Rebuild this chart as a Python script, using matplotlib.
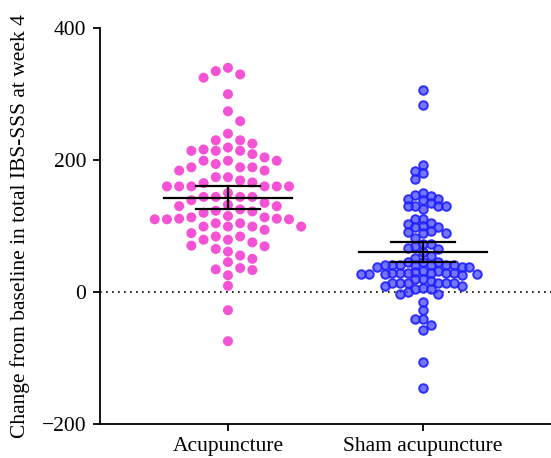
import numpy as np
import matplotlib
matplotlib.use("Agg")
from matplotlib import pyplot as plt


# DATA
groups = ["Acupuncture", "Sham acupuncture"]

acu_values = [340, 335, 330, 325, 300, 274, 259,
              240, 230, 230, 225, 219, 216, 214, 214, 214, 209,
              204, 199, 199, 199, 194, 189, 189, 189, 184, 184,
              174, 174, 169, 166, 165, 160, 160, 160, 160, 160, 160,
              150, 144, 144, 144, 144, 139, 135,
              132, 130, 130, 125, 123, 122, 120,
              115, 113, 113, 111, 111, 110, 110, 110,
              104, 104, 99, 99, 99, 99, 94,
              89, 84, 84, 79, 79, 75, 70, 69, 65, 61, 55, 50, 45,
              36, 34, 33, 25, 9, -28, -75]

sham_values = [307, 283, 192, 184, 180, 171,
               150, 147, 146, 141, 141, 139, 135, 130, 130, 130, 130, 126,
               111, 111, 105, 103, 100, 99, 98, 93, 90, 89, 89,
               82, 73, 72, 70, 67, 65, 60, 55, 52,
               45, 45, 45, 41, 41, 40, 40, 40, 40, 40, 37, 37, 37,
               32, 32, 30, 29, 29, 29, 29, 29, 29, 27, 27, 27, 27, 25,
               19, 19, 17, 14, 14, 14, 14, 14, 14,
               9, 9, 6, 4, 4, -1, -4, -4,
               -15, -28, -41, -41, -51, -58, -106, -146]

# mean and 95% CI drawn as whiskers
means = [143, 60]
ci_low = [126, 45]
ci_high = [160, 76]

yticks = [-200, 0, 200, 400]


# STYLE
pink = "#f553d6"
blue_face = (0.25, 0.25, 1.0, 0.72)
blue_edge = (0.12, 0.12, 1.0, 0.9)

plt.rcParams["font.family"] = ["Liberation Serif", "DejaVu Serif"]
plt.rcParams["axes.linewidth"] = 1.3


def swarm_offsets(ax, xc, vals, step_px, min_px):
    # place points on a column grid, smallest offset that doesnt collide
    pts = ax.transData.transform(np.column_stack([np.full(len(vals), xc), vals]))
    order = np.argsort(-np.asarray(vals), kind="stable")
    placed = []
    out = np.zeros(len(vals))
    cand = [0]
    for j in range(1, 40):
        cand += [j, -j]
    for n, i in enumerate(order):
        px, py = pts[i]
        # flip preferred side each time so the swarm stays balanced
        sgn = 1 if n % 2 == 0 else -1
        for k in cand:
            x = px + sgn * k * step_px
            ok = True
            for (qx, qy) in placed:
                if (qx - x) ** 2 + (qy - py) ** 2 < min_px ** 2:
                    ok = False
                    break
            if ok:
                break
        placed.append((x, py))
        out[i] = x
    inv = ax.transData.inverted()
    return inv.transform(np.column_stack([out, pts[:, 1]]))[:, 0]


fig = plt.figure(figsize=(5.51, 4.58), dpi=100)
ax = fig.add_axes([0.1815, 0.0753, 0.8185, 0.8629])
ax.set_xlim(-0.656, 1.656)
ax.set_ylim(-200, 400)

for s in ["top", "right"]:
    ax.spines[s].set_visible(False)

ax.axhline(0, color="black", linewidth=1.2, linestyle=(0, (1, 2.6)), zorder=1)

xa = swarm_offsets(ax, 0, acu_values, 12.2, 10.0)
xs = swarm_offsets(ax, 1, sham_values, 7.7, 7.0)

ax.scatter(xa, acu_values, s=52, color=pink, edgecolors="none", zorder=2)
ax.scatter(xs, sham_values, s=38, facecolors=[blue_face], edgecolors=[blue_edge],
           linewidths=1.4, zorder=2)

# mean + CI
for i in range(2):
    ax.plot([i - 0.33, i + 0.33], [means[i], means[i]], color="black", lw=1.6, zorder=3)
    ax.plot([i, i], [ci_low[i], ci_high[i]], color="black", lw=1.6, zorder=3)
    for v in (ci_low[i], ci_high[i]):
        ax.plot([i - 0.165, i + 0.165], [v, v], color="black", lw=1.6, zorder=3)

ax.set_xticks([0, 1])
ax.set_xticklabels(groups)
ax.set_yticks(yticks)
ax.tick_params(axis="both", direction="out", length=5, width=1.3, labelsize=15.5, pad=5)
ax.set_ylabel("Change from baseline in total IBS-SSS at week 4", fontsize=15.5, labelpad=8)

fig.savefig("out.png", dpi=100)
